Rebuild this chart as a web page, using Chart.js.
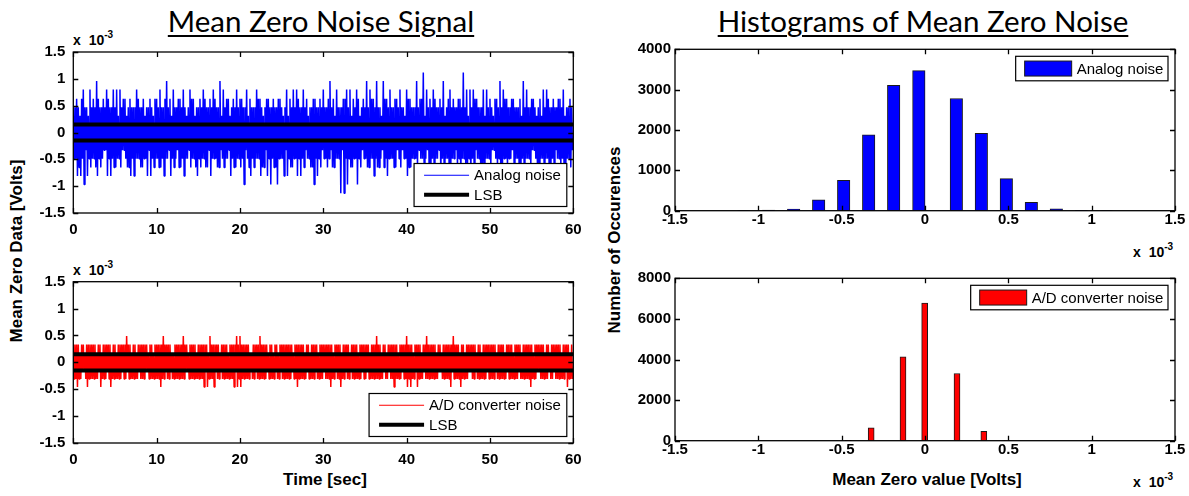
<!DOCTYPE html>
<html>
<head>
<meta charset="utf-8">
<script src="https://cdn.jsdelivr.net/npm/chart.js@4.4.1/dist/chart.umd.min.js"></script>
<style>
  body { margin: 0; background: #fff; }
  #fig { position: relative; width: 1189px; height: 496px; overflow: hidden; background: #fff; }
  .pane { position: absolute; }
  .title { position: absolute; font-family: Lato, "Open Sans", sans-serif; font-size: 29.5px; line-height: 1;
           text-decoration: underline; text-decoration-thickness: 2px; text-underline-offset: 3px;
           white-space: nowrap; transform: translateX(-50%); color: #000; }
  .ylab { position: absolute; font: bold 17px "Liberation Sans", Arial, sans-serif; white-space: nowrap;
          transform: translate(-50%, -50%) rotate(-90deg); color: #000; }
  .xlab { position: absolute; font: bold 17px "Liberation Sans", Arial, sans-serif; line-height: 1;
          white-space: nowrap; transform: translateX(-50%); color: #000; }
  .mult { position: absolute; font: bold 14px "Liberation Sans", Arial, sans-serif; line-height: 1;
          white-space: nowrap; word-spacing: 4px; color: #000; }
  .mult sup { font-size: 10px; vertical-align: 0; position: relative; top: -7px; word-spacing: 0; }
</style>
</head>
<body>
<div id="fig">
  <div class="title" style="left:321px; top:6px;">Mean Zero Noise Signal</div>
  <div class="title" style="left:923px; top:6px;">Histograms of Mean Zero Noise</div>
  <div class="ylab" style="left:17px; top:251px;">Mean Zero Data [Volts]</div>
  <div class="ylab" style="left:615px; top:240px;">Number of Occurences</div>
  <div class="xlab" style="left:325px; top:471px;">Time [sec]</div>
  <div class="xlab" style="left:927px; top:471px;">Mean Zero value [Volts]</div>
  <div class="mult" style="left:73px; top:33px;">x 10<sup>-3</sup></div>
  <div class="mult" style="left:73px; top:263px;">x 10<sup>-3</sup></div>
  <div class="mult" style="left:1133px; top:245px;">x 10<sup>-3</sup></div>
  <div class="mult" style="left:1133px; top:475px;">x 10<sup>-3</sup></div>
</div>
<script>
// all voltages are in units of 1e-3 V (the axes carry the "x 10^-3" multiplier)
const timeRange = [0, 60];
const timeStep = 10;
const voltRange = [-1.5, 1.5];
const voltStep = 0.5;
const pairStep = 0.4;   // sec covered by each group of peak A, trough A, peak B, trough B

// analog noise, samples A (carry the visible spikes)
const analogPeaks = [
  0.47, 0.63, 0.31, 0.80, 0.47, 0.80, 0.63, 0.96, 0.47, 0.63,
  0.80, 0.47, 0.80, 0.80, 0.80, 0.63, 0.31, 0.63, 0.47, 0.80,
  0.47, 0.63, 0.47, 0.63, 0.31, 0.63, 0.80, 0.47, 0.96, 0.63,
  0.80, 0.47, 0.63, 0.80, 0.31, 0.80, 0.63, 0.47, 0.63, 0.80,
  0.47, 0.63, 0.80, 0.47, 0.96, 0.80, 0.63, 0.31, 0.63, 0.80,
  0.63, 0.47, 0.80, 0.63, 0.47, 0.80, 0.63, 0.31, 0.63, 0.47,
  0.63, 0.47, 0.63, 0.31, 0.80, 0.63, 0.80, 0.80, 0.47, 0.80,
  0.63, 0.47, 0.63, 0.47, 0.63, 0.80, 0.47, 0.96, 0.63, 0.80,
  0.47, 0.63, 0.80, 0.80, 0.63, 0.80, 0.31, 0.63, 0.96, 0.80,
  0.63, 0.96, 0.47, 0.96, 0.63, 0.80, 0.47, 0.63, 0.80, 0.47,
  0.80, 0.63, 0.47, 0.96, 0.63, 1.12, 0.80, 0.63, 0.80, 0.47,
  0.63, 0.96, 0.47, 0.80, 0.63, 0.47, 0.63, 1.12, 0.80, 0.80,
  0.80, 0.63, 0.47, 0.80, 0.80, 0.63, 0.31, 0.63, 0.96, 0.80,
  0.63, 0.47, 0.63, 0.47, 0.63, 0.96, 0.80, 0.47, 0.63, 0.31,
  0.63, 0.80, 0.80, 0.47, 0.63, 0.47, 0.63, 0.80, 0.47, 0.63
];
const analogTroughs = [
  -0.49, -0.81, -0.81, -0.97, -0.81, -0.65, -0.49, -0.81, -0.65, -0.33,
  -0.81, -0.81, -0.65, -0.49, -0.65, -0.33, -0.65, -0.81, -0.81, -0.49,
  -0.65, -0.49, -0.81, -0.81, -0.65, -0.49, -0.65, -0.81, -0.49, -0.81,
  -0.65, -0.33, -0.65, -0.81, -0.49, -0.65, -0.49, -0.81, -0.65, -0.49,
  -0.65, -0.81, -0.49, -0.65, -0.33, -0.65, -0.49, -0.81, -0.65, -0.49,
  -0.65, -0.97, -0.49, -0.81, -0.65, -0.49, -0.81, -0.65, -0.81, -0.97,
  -0.65, -0.97, -0.49, -0.81, -0.81, -0.65, -0.49, -0.81, -0.81, -0.65,
  -0.49, -0.65, -0.97, -0.81, -0.65, -0.49, -0.65, -0.33, -0.65, -0.49,
  -1.13, -1.13, -0.97, -0.65, -0.49, -0.97, -0.65, -0.49, -0.65, -0.49,
  -0.81, -0.65, -0.49, -0.65, -0.81, -0.49, -0.65, -0.33, -0.65, -0.49,
  -0.81, -0.65, -0.49, -0.65, -0.49, -0.65, -0.33, -0.81, -0.65, -0.49,
  -0.81, -0.65, -0.49, -0.65, -0.49, -0.65, -0.81, -0.49, -0.65, -0.81,
  -0.65, -0.49, -0.81, -0.65, -0.49, -0.65, -0.33, -0.65, -0.81, -0.49,
  -0.65, -0.49, -0.65, -0.49, -0.81, -0.65, -0.49, -0.65, -0.33, -0.65,
  -0.49, -0.65, -0.49, -0.81, -0.65, -0.49, -0.65, -0.81, -0.49, -0.65
];
// analog noise, samples B (the dense core of the trace)
const analogPeaksB = [
  0.47, 0.47, 0.63, 0.47, 0.31, 0.47, 0.47, 0.63, 0.47, 0.47,
  0.63, 0.47, 0.47, 0.31, 0.47, 0.63, 0.47, 0.47, 0.47, 0.63,
  0.47, 0.31, 0.47, 0.47, 0.63, 0.47, 0.47, 0.63, 0.47, 0.31,
  0.47, 0.63, 0.47, 0.47, 0.47, 0.63, 0.31, 0.47, 0.47, 0.63,
  0.47, 0.47, 0.63, 0.47, 0.31, 0.47, 0.63, 0.47, 0.47, 0.47,
  0.63, 0.47, 0.31, 0.47, 0.47, 0.63, 0.47, 0.47, 0.63, 0.47,
  0.47, 0.63, 0.47, 0.47, 0.31, 0.47, 0.47, 0.63, 0.47, 0.47,
  0.31, 0.47, 0.63, 0.47, 0.47, 0.47, 0.63, 0.47, 0.31, 0.47,
  0.47, 0.63, 0.47, 0.31, 0.47, 0.63, 0.47, 0.47, 0.47, 0.63,
  0.47, 0.47, 0.31, 0.63, 0.47, 0.47, 0.63, 0.47, 0.47, 0.31,
  0.63, 0.47, 0.47, 0.47, 0.63, 0.31, 0.47, 0.47, 0.63, 0.47,
  0.47, 0.31, 0.63, 0.47, 0.47, 0.63, 0.47, 0.47, 0.31, 0.47,
  0.63, 0.47, 0.47, 0.31, 0.47, 0.47, 0.63, 0.47, 0.47, 0.63,
  0.47, 0.63, 0.47, 0.47, 0.31, 0.47, 0.47, 0.63, 0.47, 0.47,
  0.31, 0.47, 0.63, 0.47, 0.47, 0.63, 0.47, 0.31, 0.47, 0.47
];
const analogTroughsB = [
  -0.49, -0.65, -0.49, -0.33, -0.49, -0.49, -0.65, -0.49, -0.49, -0.33,
  -0.49, -0.49, -0.65, -0.49, -0.33, -0.49, -0.65, -0.49, -0.49, -0.49,
  -0.65, -0.49, -0.33, -0.49, -0.49, -0.65, -0.49, -0.49, -0.33, -0.49,
  -0.49, -0.65, -0.49, -0.49, -0.33, -0.49, -0.65, -0.49, -0.49, -0.65,
  -0.33, -0.49, -0.49, -0.65, -0.49, -0.49, -0.33, -0.49, -0.65, -0.49,
  -0.49, -0.33, -0.65, -0.49, -0.49, -0.49, -0.65, -0.33, -0.49, -0.49,
  -0.65, -0.49, -0.49, -0.33, -0.49, -0.65, -0.49, -0.49, -0.49, -0.33,
  -0.49, -0.65, -0.49, -0.49, -0.33, -0.49, -0.49, -0.65, -0.49, -0.49,
  -0.33, -0.49, -0.49, -0.65, -0.49, -0.49, -0.33, -0.49, -0.65, -0.49,
  -0.49, -0.65, -0.33, -0.49, -0.49, -0.49, -0.65, -0.49, -0.33, -0.49,
  -0.65, -0.49, -0.49, -0.33, -0.49, -0.49, -0.65, -0.49, -0.49, -0.33,
  -0.49, -0.49, -0.65, -0.49, -0.33, -0.49, -0.49, -0.65, -0.49, -0.49,
  -0.33, -0.49, -0.65, -0.49, -0.49, -0.33, -0.49, -0.49, -0.65, -0.49,
  -0.49, -0.33, -0.49, -0.65, -0.49, -0.49, -0.49, -0.33, -0.49, -0.65,
  -0.49, -0.49, -0.65, -0.49, -0.33, -0.49, -0.49, -0.65, -0.49, -0.33
];

// A/D converter noise (quantized), samples A
const adcPeaks = [
  0.33, 0.33, 0.17, 0.33, 0.33, 0.33, 0.33, 0.17, 0.33, 0.33,
  0.33, 0.33, 0.33, 0.17, 0.33, 0.33, 0.49, 0.33, 0.33, 0.17,
  0.33, 0.33, 0.33, 0.33, 0.17, 0.33, 0.33, 0.49, 0.33, 0.33,
  0.17, 0.33, 0.33, 0.49, 0.33, 0.33, 0.33, 0.17, 0.33, 0.33,
  0.33, 0.49, 0.33, 0.33, 0.17, 0.33, 0.33, 0.33, 0.33, 0.49,
  0.49, 0.33, 0.33, 0.17, 0.33, 0.33, 0.49, 0.33, 0.33, 0.33,
  0.17, 0.33, 0.33, 0.33, 0.33, 0.33, 0.17, 0.33, 0.33, 0.33,
  0.33, 0.17, 0.33, 0.33, 0.33, 0.33, 0.33, 0.33, 0.17, 0.33,
  0.33, 0.33, 0.33, 0.17, 0.33, 0.33, 0.33, 0.33, 0.33, 0.17,
  0.33, 0.49, 0.33, 0.33, 0.17, 0.33, 0.33, 0.33, 0.33, 0.33,
  0.49, 0.33, 0.17, 0.33, 0.33, 0.33, 0.49, 0.33, 0.33, 0.17,
  0.33, 0.33, 0.33, 0.33, 0.49, 0.33, 0.17, 0.33, 0.33, 0.33,
  0.33, 0.17, 0.33, 0.33, 0.33, 0.33, 0.33, 0.17, 0.33, 0.33,
  0.33, 0.33, 0.17, 0.33, 0.33, 0.33, 0.33, 0.33, 0.17, 0.33,
  0.33, 0.33, 0.33, 0.17, 0.33, 0.33, 0.33, 0.33, 0.33, 0.17
];
const adcTroughs = [
  -0.31, -0.46, -0.31, -0.15, -0.46, -0.31, -0.31, -0.31, -0.46, -0.31,
  -0.15, -0.46, -0.31, -0.31, -0.31, -0.31, -0.15, -0.31, -0.31, -0.31,
  -0.31, -0.31, -0.15, -0.31, -0.31, -0.31, -0.46, -0.31, -0.31, -0.15,
  -0.31, -0.31, -0.31, -0.31, -0.15, -0.31, -0.31, -0.31, -0.31, -0.46,
  -0.46, -0.31, -0.46, -0.31, -0.15, -0.31, -0.31, -0.31, -0.46, -0.46,
  -0.46, -0.31, -0.31, -0.15, -0.31, -0.31, -0.31, -0.31, -0.15, -0.31,
  -0.31, -0.31, -0.15, -0.31, -0.31, -0.31, -0.31, -0.46, -0.31, -0.31,
  -0.15, -0.31, -0.31, -0.31, -0.31, -0.15, -0.31, -0.46, -0.31, -0.31,
  -0.46, -0.31, -0.31, -0.15, -0.31, -0.31, -0.31, -0.31, -0.15, -0.31,
  -0.31, -0.31, -0.31, -0.15, -0.31, -0.31, -0.46, -0.31, -0.31, -0.31,
  -0.46, -0.46, -0.31, -0.46, -0.31, -0.15, -0.31, -0.31, -0.31, -0.31,
  -0.15, -0.31, -0.31, -0.46, -0.31, -0.31, -0.46, -0.31, -0.31, -0.15,
  -0.31, -0.31, -0.31, -0.31, -0.15, -0.31, -0.31, -0.31, -0.31, -0.31,
  -0.15, -0.31, -0.31, -0.31, -0.31, -0.31, -0.31, -0.46, -0.31, -0.15,
  -0.31, -0.31, -0.31, -0.31, -0.15, -0.31, -0.31, -0.31, -0.46, -0.31
];
// A/D converter noise, samples B
const adcPeaksB = [
  0.33, 0.33, 0.33, 0.17, 0.33, 0.33, 0.33, 0.33, 0.17, 0.33,
  0.33, 0.17, 0.33, 0.33, 0.33, 0.33, 0.33, 0.17, 0.33, 0.33,
  0.33, 0.33, 0.17, 0.33, 0.33, 0.33, 0.33, 0.33, 0.33, 0.17,
  0.33, 0.33, 0.33, 0.33, 0.17, 0.33, 0.33, 0.33, 0.33, 0.33,
  0.17, 0.33, 0.33, 0.33, 0.33, 0.33, 0.17, 0.33, 0.33, 0.33,
  0.33, 0.33, 0.33, 0.17, 0.33, 0.33, 0.33, 0.33, 0.17, 0.33,
  0.33, 0.17, 0.33, 0.33, 0.33, 0.33, 0.33, 0.33, 0.33, 0.17,
  0.33, 0.33, 0.33, 0.17, 0.33, 0.33, 0.33, 0.33, 0.33, 0.33,
  0.17, 0.33, 0.33, 0.33, 0.33, 0.17, 0.33, 0.33, 0.33, 0.33,
  0.33, 0.33, 0.17, 0.33, 0.33, 0.33, 0.33, 0.17, 0.33, 0.33,
  0.33, 0.33, 0.33, 0.33, 0.17, 0.33, 0.33, 0.33, 0.33, 0.33,
  0.17, 0.33, 0.33, 0.33, 0.33, 0.33, 0.33, 0.17, 0.33, 0.33,
  0.33, 0.33, 0.17, 0.33, 0.33, 0.33, 0.33, 0.33, 0.33, 0.17,
  0.33, 0.33, 0.33, 0.33, 0.17, 0.33, 0.33, 0.33, 0.33, 0.33,
  0.33, 0.17, 0.33, 0.33, 0.33, 0.33, 0.17, 0.33, 0.33, 0.33
];
const adcTroughsB = [
  -0.31, -0.31, -0.15, -0.31, -0.31, -0.31, -0.31, -0.15, -0.31, -0.31,
  -0.31, -0.31, -0.31, -0.31, -0.15, -0.31, -0.31, -0.31, -0.31, -0.15,
  -0.31, -0.15, -0.31, -0.31, -0.31, -0.31, -0.31, -0.15, -0.31, -0.31,
  -0.31, -0.31, -0.31, -0.15, -0.31, -0.31, -0.31, -0.31, -0.31, -0.15,
  -0.31, -0.31, -0.15, -0.31, -0.31, -0.31, -0.31, -0.31, -0.15, -0.31,
  -0.31, -0.31, -0.31, -0.31, -0.15, -0.31, -0.31, -0.31, -0.31, -0.31,
  -0.15, -0.31, -0.31, -0.31, -0.31, -0.15, -0.31, -0.31, -0.31, -0.31,
  -0.31, -0.31, -0.15, -0.31, -0.31, -0.31, -0.31, -0.31, -0.15, -0.31,
  -0.31, -0.15, -0.31, -0.31, -0.31, -0.31, -0.15, -0.31, -0.31, -0.31,
  -0.31, -0.31, -0.31, -0.31, -0.15, -0.31, -0.31, -0.31, -0.15, -0.31,
  -0.31, -0.31, -0.15, -0.31, -0.31, -0.31, -0.31, -0.31, -0.31, -0.15,
  -0.31, -0.31, -0.31, -0.15, -0.31, -0.31, -0.31, -0.31, -0.15, -0.31,
  -0.15, -0.31, -0.31, -0.31, -0.31, -0.31, -0.15, -0.31, -0.31, -0.31,
  -0.31, -0.31, -0.31, -0.15, -0.31, -0.31, -0.31, -0.31, -0.31, -0.15,
  -0.31, -0.31, -0.15, -0.31, -0.31, -0.31, -0.31, -0.15, -0.31, -0.31
];

const lsbLevels = [0.15, -0.15];

// histograms
const histRange = [-1.5, 1.5];
const analogBinCenters = [-1.088, -0.938, -0.788, -0.638, -0.488, -0.338, -0.188, -0.037, 0.188, 0.338, 0.488, 0.638, 0.788, 0.938, 1.088];
const analogBinCounts  = [3, 15, 40, 270, 750, 1880, 3110, 3470, 2780, 1920, 795, 205, 45, 8, 3];
const adcBinCenters = [-0.46, -0.323, -0.132, -0.002, 0.192, 0.353, 0.49];
const adcBinCounts  = [15, 630, 4130, 6780, 3310, 460, 10];
const analogCountMax = 4000;
const adcCountMax = 8000;

const tickFont = { family: '"Liberation Sans", Arial, sans-serif', size: 15, weight: 'bold' };

function zigzag(peaks, troughs, peaksB, troughsB) {
  const pts = [];
  const q = pairStep / 4;
  peaks.forEach((p, k) => {
    const t = k * pairStep;
    pts.push({ x: t, y: p });
    pts.push({ x: t + q, y: troughs[k] });
    pts.push({ x: t + 2 * q, y: peaksB[k] });
    pts.push({ x: t + 3 * q, y: troughsB[k] });
  });
  return pts;
}

function lsbLine() {
  return [
    { x: timeRange[0], y: lsbLevels[0] }, { x: timeRange[1], y: lsbLevels[0] },
    { x: timeRange[1], y: null },
    { x: timeRange[0], y: lsbLevels[1] }, { x: timeRange[1], y: lsbLevels[1] }
  ];
}

// MATLAB style box with inward ticks on all four sides
const boxFrame = {
  id: 'boxFrame',
  afterDraw(chart) {
    const { ctx, chartArea: a, scales } = chart;
    const len = 5;
    ctx.save();
    ctx.strokeStyle = '#000';
    ctx.lineWidth = 1.3;
    ctx.strokeRect(a.left, a.top, a.right - a.left, a.bottom - a.top);
    ctx.beginPath();
    scales.x.ticks.forEach(t => {
      const px = Math.round(scales.x.getPixelForValue(t.value)) + 0.5;
      ctx.moveTo(px, a.bottom); ctx.lineTo(px, a.bottom - len);
      ctx.moveTo(px, a.top); ctx.lineTo(px, a.top + len);
    });
    scales.y.ticks.forEach(t => {
      const py = Math.round(scales.y.getPixelForValue(t.value)) + 0.5;
      ctx.moveTo(a.left, py); ctx.lineTo(a.left + len, py);
      ctx.moveTo(a.right, py); ctx.lineTo(a.right - len, py);
    });
    ctx.stroke();
    ctx.restore();
  }
};

const insetLegend = {
  id: 'insetLegend',
  afterDraw(chart, args, o) {
    const { ctx, chartArea: a } = chart;
    const items = chart.data.datasets;
    ctx.save();
    ctx.font = '15px "Liberation Sans", Arial, sans-serif';
    const textW = Math.max(...items.map(d => ctx.measureText(d.label).width));
    const w = o.padL + o.sampleW + o.gap + textW + o.padR;
    const h = o.rowH * items.length + o.padV * 2;
    const x = a.right - o.inset - w;
    const y = o.corner === 'top' ? a.top + o.inset : a.bottom - o.inset - h;
    ctx.fillStyle = '#fff';
    ctx.fillRect(x, y, w, h);
    ctx.strokeStyle = '#000';
    ctx.lineWidth = 1.2;
    ctx.strokeRect(x, y, w, h);
    items.forEach((d, i) => {
      const cy = y + o.padV + o.rowH * (i + 0.5);
      const sx = x + o.padL;
      if (o.swatch === 'box') {
        ctx.fillStyle = d.backgroundColor;
        ctx.fillRect(sx, cy - 7.5, o.sampleW, 15);
        ctx.strokeStyle = d.borderColor;
        ctx.lineWidth = 1;
        ctx.strokeRect(sx, cy - 7.5, o.sampleW, 15);
      } else {
        ctx.strokeStyle = d.borderColor;
        ctx.lineWidth = d.legendWidth || d.borderWidth;
        ctx.beginPath();
        ctx.moveTo(sx, cy); ctx.lineTo(sx + o.sampleW, cy);
        ctx.stroke();
      }
      ctx.fillStyle = '#000';
      ctx.textBaseline = 'middle';
      ctx.fillText(d.label, sx + o.sampleW + o.gap, cy + 1);
    });
    ctx.restore();
  }
};

function makePane(left, top, width, height) {
  const div = document.createElement('div');
  div.className = 'pane';
  div.style.cssText = `left:${left}px;top:${top}px;width:${width}px;height:${height}px;`;
  const cv = document.createElement('canvas');
  cv.width = width; cv.height = height;
  cv.style.width = width + 'px'; cv.style.height = height + 'px';
  div.appendChild(cv);
  document.getElementById('fig').appendChild(div);
  return cv;
}

function scales(xr, xStep, yr, yStep, yW, xH, yPad, xPad) {
  return {
    x: {
      type: 'linear', min: xr[0], max: xr[1], offset: false,
      grid: { display: false, drawTicks: false }, border: { display: false },
      ticks: { stepSize: xStep, font: tickFont, color: '#000', padding: xPad, maxRotation: 0, autoSkip: false,
               callback: v => String(Math.round(v * 1000) / 1000) },
      afterFit: s => { s.height = xH; }
    },
    y: {
      type: 'linear', min: yr[0], max: yr[1],
      grid: { display: false, drawTicks: false }, border: { display: false },
      ticks: { stepSize: yStep, font: tickFont, color: '#000', padding: yPad, autoSkip: false,
               callback: v => String(Math.round(v * 1000) / 1000) },
      afterFit: s => { s.width = yW; }
    }
  };
}

function noiseChart(canvas, label, color, series, padTop, xH) {
  return new Chart(canvas, {
    type: 'line',
    data: {
      datasets: [
        { label: label, data: zigzag(...series), borderColor: color, borderWidth: 1.5, legendWidth: 1,
          borderJoinStyle: 'bevel', pointRadius: 0, tension: 0, order: 2 },
        { label: 'LSB', data: lsbLine(), borderColor: '#000', borderWidth: 4,
          pointRadius: 0, tension: 0, spanGaps: false, order: 1 }
      ]
    },
    options: {
      responsive: false, animation: false, devicePixelRatio: 1,
      layout: { padding: { left: 0, top: padTop, right: 26.7, bottom: 0 } },
      scales: scales(timeRange, timeStep, voltRange, voltStep, 73.3, xH, 8, 8),
      plugins: {
        legend: { display: false }, tooltip: { enabled: false },
        insetLegend: { corner: 'bottom', inset: 6.5, padL: 10, sampleW: 45, gap: 5, padR: 6, rowH: 19.5, padV: 2, swatch: 'line' }
      }
    },
    plugins: [boxFrame, insetLegend]
  });
}

function histChart(canvas, label, color, centers, counts, yMax, thick, padTop, xH) {
  return new Chart(canvas, {
    type: 'bar',
    data: {
      datasets: [{
        label: label,
        data: centers.map((c, i) => ({ x: c, y: counts[i] })),
        backgroundColor: color, borderColor: '#1a1a1a', borderWidth: 1, barThickness: thick
      }]
    },
    options: {
      responsive: false, animation: false, devicePixelRatio: 1,
      layout: { padding: { left: 0, top: padTop, right: 14, bottom: 0 } },
      scales: scales(histRange, 0.5, [0, yMax], yMax / 4, 75, xH, 4, 0),
      plugins: {
        legend: { display: false }, tooltip: { enabled: false },
        insetLegend: { corner: 'top', inset: 7, padL: 9, sampleW: 47, gap: 5, padR: 4.6, rowH: 20.5, padV: 2, swatch: 'box' }
      }
    },
    plugins: [boxFrame, insetLegend]
  });
}

noiseChart(makePane(0, 0, 600, 250), 'Analog noise', '#0000ff',
  [analogPeaks, analogTroughs, analogPeaksB, analogTroughsB], 52, 37);
noiseChart(makePane(0, 250, 600, 246), 'A/D converter noise', '#ff0000',
  [adcPeaks, adcTroughs, adcPeaksB, adcTroughsB], 31.7, 53);
histChart(makePane(600, 0, 589, 250), 'Analog noise', '#0000ff', analogBinCenters, analogBinCounts, analogCountMax, 12.5, 49.3, 39.3);
histChart(makePane(600, 250, 589, 246), 'A/D converter noise', '#ff0000', adcBinCenters, adcBinCounts, adcCountMax, 6, 28.3, 55.3);
</script>
</body>
</html>
